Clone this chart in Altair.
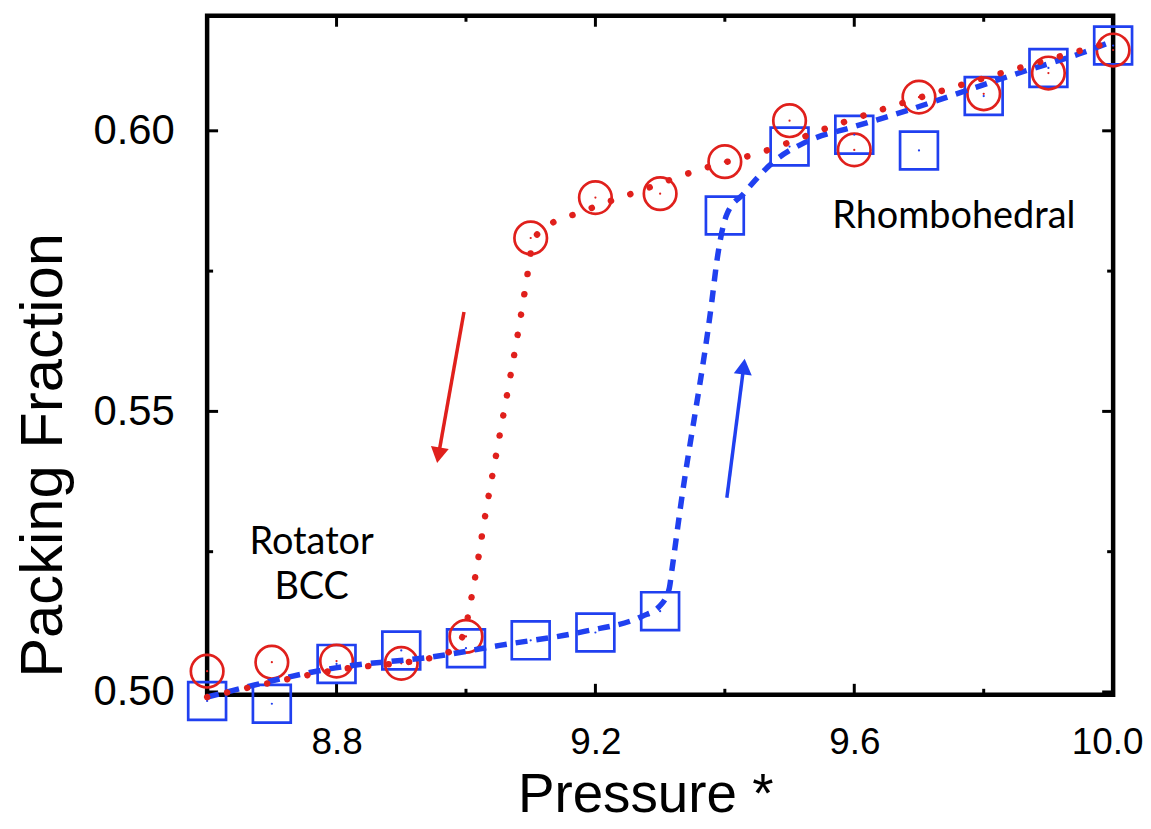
import altair as alt
import pandas as pd

# ---- data ----
pressure = [8.6, 8.7, 8.8, 8.9, 9.0, 9.1, 9.2, 9.3, 9.4, 9.5, 9.6, 9.7, 9.8, 9.9, 10.0]
decomp = [0.5037, 0.5053, 0.5055, 0.5051, 0.5099, 0.5809, 0.5881, 0.5888,
          0.5945, 0.6018, 0.5966, 0.6060, 0.6066, 0.6103, 0.6144]
comp = [0.4984, 0.4979, 0.5050, 0.5074, 0.5078, 0.5092, 0.5106, 0.5144,
        0.5849, 0.5972, 0.5993, 0.5965, 0.6062, 0.6112, 0.6152]

red_line_x = [8.6, 8.7985, 8.957, 8.985, 8.998, 9.011, 9.032, 9.049, 9.088, 9.098,
              9.103, 9.1215, 9.18, 9.271, 9.3615, 9.454, 9.575, 9.695, 9.8215, 10.0]
red_line_y = [0.4991, 0.5039, 0.5064, 0.5082, 0.5110, 0.5184, 0.5330, 0.5438, 0.5693, 0.5766,
              0.5803, 0.5826, 0.5856, 0.5894, 0.5931, 0.5961, 0.6012, 0.6057, 0.6101, 0.6159]

blue_line_x = [8.6, 8.7985, 8.957, 9.052, 9.183, 9.2723, 9.2985, 9.3138, 9.3185, 9.3308,
               9.38, 9.3877, 9.403, 9.429, 9.4754, 9.529, 9.5985, 9.6646, 9.7308, 9.789,
               9.8677, 9.955, 10.0]
blue_line_y = [0.4991, 0.5043, 0.5064, 0.5083, 0.5108, 0.5135, 0.5152, 0.5183, 0.5220, 0.5324,
               0.5697, 0.5768, 0.5851, 0.5888, 0.5945, 0.5982, 0.6007, 0.6030, 0.6055, 0.6078,
               0.6108, 0.6140, 0.6160]

labels_text = ["Rhombohedral", "Rotator", "BCC"]
labels_x = [9.7538, 8.7615, 8.7615]
labels_y = [0.5846, 0.5265, 0.5185]

arrow_color = ["red", "blue"]
arrow_tail_x = [8.9969, 9.4031]
arrow_tail_y = [0.5677, 0.5346]
arrow_head_x = [8.9575, 9.4292]
arrow_head_y = [0.5422, 0.5580]
arrow_angle = [190, 7]

x_major = [8.8, 9.2, 9.6, 10.0]
x_minor = [9.0, 9.4, 9.8]
y_major = [0.50, 0.55, 0.60]
y_minor = [0.525, 0.575]

RED = "#e0201c"
BLUE = "#2040f0"

W, H = 910, 682

markers = pd.DataFrame({"x": pressure, "red": decomp, "blue": comp})
red_line = pd.DataFrame({"x": red_line_x, "y": red_line_y})
blue_line = pd.DataFrame({"x": blue_line_x, "y": blue_line_y})
texts = pd.DataFrame({"t": labels_text, "x": labels_x, "y": labels_y})
arrows = pd.DataFrame({"c": arrow_color, "x": arrow_tail_x, "y": arrow_tail_y,
                       "x2": arrow_head_x, "y2": arrow_head_y, "a": arrow_angle})
xmaj = pd.DataFrame({"v": x_major})
xmin = pd.DataFrame({"v": x_minor})
ymaj = pd.DataFrame({"v": y_major})
ymin = pd.DataFrame({"v": y_minor})

xscale = alt.Scale(domain=[8.6, 10.0], nice=False, zero=False)
yscale = alt.Scale(domain=[0.4995, 0.6205], nice=False, zero=False)

xaxis = alt.Axis(values=x_major, format=".1f", grid=False, ticks=False, tickSize=0, domain=False,
                 labelFont="Liberation Sans", labelFontSize=37, labelColor="black",
                 labelPadding=30, labelOffset=alt.ExprRef("datum.value >= 10 ? -6 : 0"),
                 title="Pressure *", titleFont="Liberation Sans",
                 titleFontSize=55, titleFontWeight="normal", titleColor="black",
                 titleX=440, titleY=117, titleBaseline="alphabetic", titleAnchor="start",
                 titleAlign="center", labelFlush=False, labelOverlap=False)
yaxis = alt.Axis(values=y_major, format=".2f", grid=False, ticks=False, tickSize=0, domain=False,
                 labelFont="Liberation Sans", labelFontSize=42, labelColor="black",
                 labelPadding=33, title="Packing Fraction", titleFont="Liberation Sans",
                 titleFontSize=60, titleFontWeight="normal", titleColor="black",
                 titleX=-133, titleY=441, titleAngle=-90, titleBaseline="bottom",
                 titleAlign="center", labelFlush=False, labelOverlap=False)


def X(f):
    return alt.X(f, type="quantitative", scale=xscale, axis=xaxis)


def Y(f):
    return alt.Y(f, type="quantitative", scale=yscale, axis=yaxis)


circles = alt.Chart(markers).mark_point(shape="circle", filled=False, size=1070, opacity=1,
                                        stroke=RED, strokeWidth=2.7, clip=False).encode(
    x=X("x"), y=Y("red"))
squares = alt.Chart(markers).mark_point(shape="square", filled=False, size=1444, opacity=1,
                                        stroke=BLUE, strokeWidth=2.7, clip=False).encode(
    x=X("x"), y=Y("blue"))
cdots = alt.Chart(markers).mark_point(shape="circle", filled=True, size=5, color=RED,
                                      opacity=1).encode(x=X("x"), y=Y("red"))
sdots = alt.Chart(markers).mark_point(shape="circle", filled=True, size=5, color=BLUE,
                                      opacity=1).encode(x=X("x"), y=Y("blue"))

bline = alt.Chart(blue_line).mark_line(color=BLUE, strokeWidth=5.5, strokeDash=[12, 9],
                                       interpolate="monotone", clip=False).encode(
    x=X("x"), y=Y("y"))
rline = alt.Chart(red_line).mark_line(color=RED, strokeWidth=6.5, strokeDash=[0.1, 20.5],
                                      strokeCap="round", interpolate="monotone",
                                      clip=False).encode(x=X("x"), y=Y("y"))

arrow_scale = alt.Scale(domain=["red", "blue"], range=[RED, BLUE])
ashaft = alt.Chart(arrows).mark_rule(strokeWidth=3.5).encode(
    x=X("x"), y=Y("y"), x2="x2", y2="y2",
    color=alt.Color("c:N", scale=arrow_scale, legend=None))
ahead = alt.Chart(arrows).mark_point(shape="triangle-up", filled=True, size=330, opacity=1).encode(
    x=X("x2"), y=Y("y2"), angle=alt.Angle("a:Q", scale=None),
    color=alt.Color("c:N", scale=arrow_scale, legend=None))

txt = alt.Chart(texts).mark_text(font="Lato", fontSize=38, color="black").encode(
    x=X("x"), y=Y("y"), text="t:N")

TK = 3
xmaj_b = alt.Chart(xmaj).mark_rule(color="black", strokeWidth=TK).encode(
    x=X("v"), y=alt.value(H), y2=alt.value(H - 11))
xmin_b = alt.Chart(xmin).mark_rule(color="black", strokeWidth=TK).encode(
    x=X("v"), y=alt.value(H), y2=alt.value(H - 6))
xmaj_t = alt.Chart(xmaj).mark_rule(color="black", strokeWidth=TK).encode(
    x=X("v"), y=alt.value(0), y2=alt.value(11))
xmin_t = alt.Chart(xmin).mark_rule(color="black", strokeWidth=TK).encode(
    x=X("v"), y=alt.value(0), y2=alt.value(6))
ymaj_l = alt.Chart(ymaj).mark_rule(color="black", strokeWidth=TK).encode(
    y=Y("v"), x=alt.value(0), x2=alt.value(11))
ymin_l = alt.Chart(ymin).mark_rule(color="black", strokeWidth=TK).encode(
    y=Y("v"), x=alt.value(0), x2=alt.value(6))
ymaj_r = alt.Chart(ymaj).mark_rule(color="black", strokeWidth=TK).encode(
    y=Y("v"), x=alt.value(W), x2=alt.value(W - 11))
ymin_r = alt.Chart(ymin).mark_rule(color="black", strokeWidth=TK).encode(
    y=Y("v"), x=alt.value(W), x2=alt.value(W - 6))

chart = alt.layer(
    xmaj_b, xmin_b, xmaj_t, xmin_t, ymaj_l, ymin_l, ymaj_r, ymin_r,
    squares, circles, sdots, cdots, bline, rline, ashaft, ahead, txt
).properties(
    width=W, height=H,
    autosize=alt.AutoSizeParams(type="none"),
    padding={"left": 200, "top": 6, "right": 30, "bottom": 133},
    background="white",
).configure_view(stroke="black", strokeWidth=4.5)

chart.save("out.html", embed_options={"renderer": "svg", "actions": False})
